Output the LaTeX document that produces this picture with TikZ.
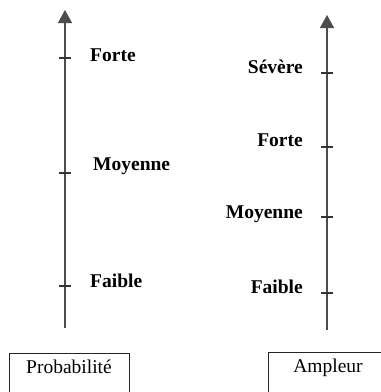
\documentclass[tikz,border=0pt]{standalone}
\usepackage{fontspec}
\setmainfont{Liberation Serif}
\usetikzlibrary{arrows.meta, positioning}

\begin{document}
\begin{tikzpicture}[
      x=1pt, y=-1pt,
      axis/.style={draw=black!70, line width=1.4pt, -{Triangle[width=14pt,length=13pt]}},
      tickmark/.style={draw=black!80, line width=1.1pt},
      level/.style={font=\fontsize{19.5}{22}\selectfont\bfseries, inner sep=0pt},
      caption/.style={draw=black!85, line width=1pt, minimum width=120pt, text height=14pt,
        text depth=40pt, inner ysep=6pt, anchor=north, font=\fontsize{19.5}{22}\selectfont}
    ]
      \useasboundingbox (0,0) rectangle (381,392);
      \clip (0,0) rectangle (381,392);
      % axe de gauche
      \coordinate (pbottom) at (65,328);
      \coordinate (ptop) at (65,10);
      \draw[axis] (pbottom) -- (ptop);
      \foreach \y/\name in {58/forte, 173/moyenne, 286/faible} {
        \coordinate (p\name) at (65,\y);
        \draw[tickmark] ([xshift=-6pt]p\name) -- ([xshift=6pt]p\name);
      }
      \node[level, anchor=base west] (lforte) at (90,61) {Forte};
      \node[level, anchor=base west] (lmoyenne) at (93,170) {Moyenne};
      \node[level, anchor=base west] (lfaible) at (90,287) {Faible};
      % axe de droite
      \coordinate (abottom) at (327,330);
      \coordinate (atop) at (327,15);
      \draw[axis] (abottom) -- (atop);
      \foreach \y/\name in {73/severe, 147/forte, 217/moyenne, 293/faible} {
        \coordinate (a\name) at (327,\y);
        \draw[tickmark] ([xshift=-6pt]a\name) -- ([xshift=6pt]a\name);
      }
      \node[level, anchor=base east] (rsevere) at (303,73) {Sévère};
      \node[level, anchor=base east] (rforte) at (303,146) {Forte};
      \node[level, anchor=base east] (rmoyenne) at (303,218) {Moyenne};
      \node[level, anchor=base east] (rfaible) at (303,293) {Faible};
      % legendes
      \node[caption] (probbox) at (69,353) {Probabilité};
      \node[caption] (amplbox) at (328,352) {Ampleur};
    \end{tikzpicture}
\end{document}
